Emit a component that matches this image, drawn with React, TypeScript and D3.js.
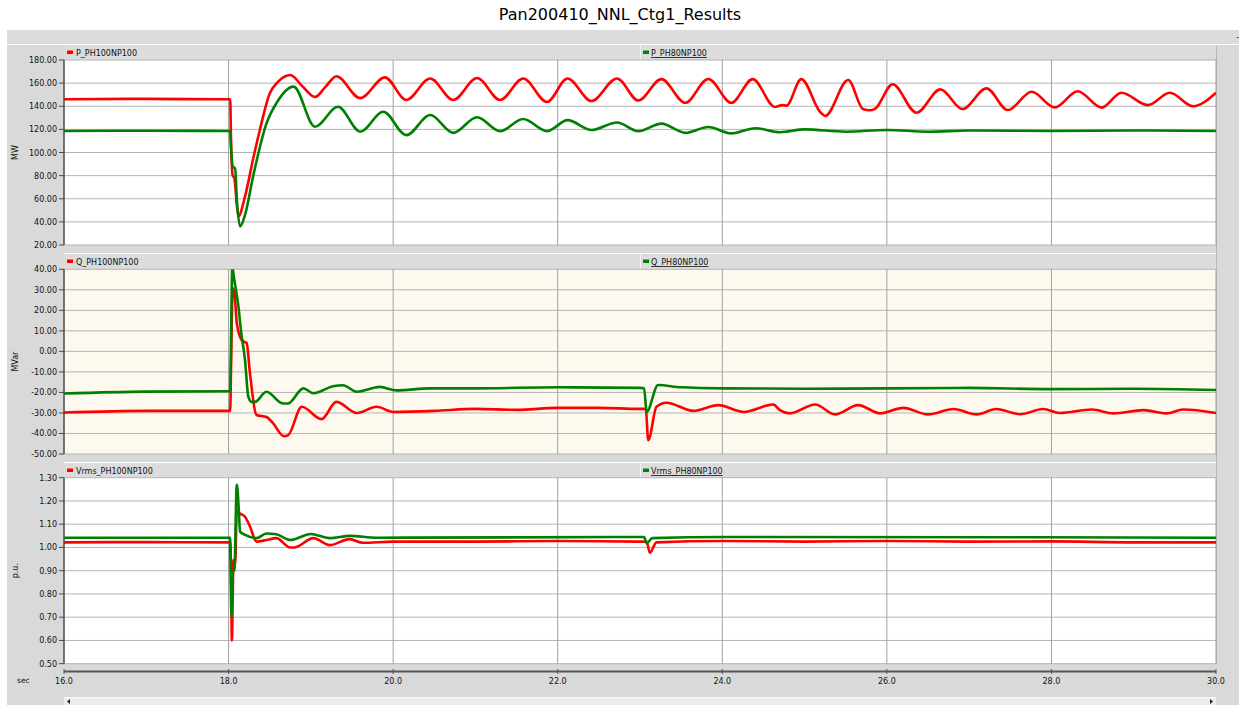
import { useMemo } from 'react'
import * as d3 from 'd3'

const TITLE = 'Pan200410_NNL_Ctg1_Results'
const X_TICKS = [16, 18, 20, 22, 24, 26, 28, 30]

// P (MW)
const P_PH100NP100: [number, number][] = [
  [16.0, 146], [17.0, 146.4], [18.0, 146], [18.02, 146], [18.03, 110], [18.05, 80], [18.07, 78],
  [18.1, 55], [18.12, 45], [18.2, 62], [18.3, 95], [18.38, 119.5], [18.5, 151], [18.6, 161],
  [18.75, 167], [18.9, 157], [19.05, 148], [19.18, 157], [19.31, 166], [19.6, 147], [19.9, 165],
  [20.16, 145.4], [20.45, 164], [20.73, 145.4], [21.02, 164.4], [21.3, 145.4], [21.58, 164],
  [21.87, 143.7], [22.12, 164], [22.41, 144.5], [22.72, 164], [22.98, 145], [23.26, 163.5],
  [23.55, 143], [23.83, 163.6], [24.11, 143], [24.37, 163.5], [24.64, 139.4], [24.73, 141],
  [24.78, 140.5], [24.96, 163.5], [25.19, 135], [25.25, 131.6], [25.53, 162.7], [25.71, 137.6],
  [25.79, 136.5], [25.86, 138], [26.07, 159], [26.36, 134.4], [26.65, 154.6], [26.92, 137.6],
  [27.21, 155.5], [27.47, 136.7], [27.76, 152.6], [28.04, 139], [28.32, 153], [28.61, 138.8],
  [28.85, 151.7], [29.17, 141], [29.44, 151.7], [29.72, 140], [30.0, 151.7]
]
const P_PH80NP100: [number, number][] = [
  [16.0, 118.6], [17.0, 118.8], [18.0, 118.6], [18.02, 118], [18.03, 104], [18.05, 88], [18.08, 86],
  [18.1, 60], [18.14, 36], [18.2, 46], [18.3, 80], [18.46, 125], [18.58, 142.5], [18.79, 157],
  [19.05, 122.3], [19.33, 139.6], [19.6, 118], [19.88, 135.3], [20.16, 115], [20.45, 132.4],
  [20.73, 117], [21.02, 130.5], [21.3, 118.5], [21.58, 129], [21.87, 118.5], [22.12, 128],
  [22.41, 119.5], [22.72, 126], [22.98, 118.5], [23.26, 125], [23.55, 117], [23.83, 122],
  [24.11, 116.5], [24.4, 121], [24.7, 117.5], [25.0, 120], [25.5, 118], [26.0, 119.5],
  [26.5, 118], [27.0, 119], [28.0, 118.6], [29.0, 119], [30.0, 118.6]
]

// Q (MVar)
const Q_PH100NP100: [number, number][] = [
  [16.0, -29.8], [17.0, -29], [18.0, -29], [18.02, -29], [18.03, -7.5], [18.05, 30.7], [18.07, 29],
  [18.1, 13.8], [18.16, 5.5], [18.22, 4], [18.26, -10.7], [18.34, -31], [18.46, -32], [18.54, -35],
  [18.67, -41.3], [18.72, -41], [18.89, -27], [19.13, -33], [19.31, -24.6], [19.56, -30],
  [19.8, -27], [20.0, -29.5], [20.5, -29], [21.0, -28], [21.5, -28.5], [22.0, -27.5], [22.5, -27.5],
  [23.0, -28], [23.07, -28], [23.1, -43.3], [23.2, -27], [23.32, -25], [23.65, -29], [23.95, -26.2],
  [24.26, -29.5], [24.62, -25.9], [24.7, -28.6], [24.82, -30.2], [25.13, -25.9], [25.37, -30.7],
  [25.65, -26.2], [25.92, -30.2], [26.2, -27.5], [26.5, -30.7], [26.81, -28.1], [27.09, -30.7],
  [27.33, -28.1], [27.62, -30.6], [27.9, -28.1], [28.1, -30], [28.49, -28.3], [28.75, -30.2],
  [29.12, -28.6], [29.4, -30.2], [29.6, -28.3], [30.0, -30]
]
const Q_PH80NP100: [number, number][] = [
  [16.0, -20.5], [17.0, -19.6], [18.0, -19.4], [18.02, -19.4], [18.03, 5], [18.045, 41],
  [18.07, 34.8], [18.12, 21.8], [18.15, 10.4], [18.2, -4.3], [18.24, -22], [18.28, -24.6],
  [18.32, -24.6], [18.46, -19.7], [18.66, -25.4], [18.72, -25.4], [18.91, -18], [19.03, -20.4],
  [19.27, -17], [19.39, -16.5], [19.56, -19.7], [19.84, -17.3], [20.04, -19], [20.45, -18],
  [21.0, -18], [22.0, -17.5], [23.0, -17.8], [23.05, -18], [23.08, -29.5], [23.22, -16.4],
  [23.5, -17.5], [24.0, -18], [25.0, -18.2], [26.0, -18], [27.0, -17.8], [28.0, -18.4],
  [29.0, -18.2], [30.0, -18.8]
]

// Vrms (p.u.)
const Vrms_PH100NP100: [number, number][] = [
  [16.0, 1.022], [17.0, 1.023], [18.0, 1.022], [18.02, 1.022], [18.03, 0.9], [18.04, 0.6],
  [18.06, 0.946], [18.08, 0.93], [18.1, 1.16], [18.13, 1.148], [18.2, 1.132], [18.26, 1.09],
  [18.34, 1.025], [18.46, 1.032], [18.58, 1.04], [18.75, 1.0], [18.8, 1.0], [19.03, 1.04],
  [19.23, 1.01], [19.47, 1.036], [19.63, 1.02], [20.0, 1.025], [21.0, 1.025], [22.0, 1.028],
  [23.0, 1.025], [23.08, 1.025], [23.12, 0.977], [23.2, 1.022], [24.0, 1.028], [25.0, 1.025],
  [26.0, 1.028], [27.0, 1.025], [28.0, 1.026], [29.0, 1.022], [30.0, 1.022]
]
const Vrms_PH80NP100: [number, number][] = [
  [16.0, 1.042], [17.0, 1.042], [18.0, 1.042], [18.02, 1.042], [18.025, 0.903], [18.035, 0.7],
  [18.045, 0.9], [18.07, 0.9], [18.1, 1.27], [18.12, 1.19], [18.14, 1.068], [18.2, 1.054],
  [18.34, 1.04], [18.46, 1.06], [18.58, 1.057], [18.75, 1.032], [19.0, 1.058], [19.1, 1.05],
  [19.23, 1.04], [19.47, 1.05], [19.8, 1.042], [23.05, 1.045], [23.08, 1.018], [23.15, 1.04],
  [24.0, 1.045], [30.0, 1.042]
]

const RED = '#ff0000'
const GREEN = '#008000'
const FONT = 'DejaVu Sans, Verdana, sans-serif'

const PANELS = [
  { key: 'p', unit: 'MW', names: ['P_PH100NP100', 'P_PH80NP100'], series: [P_PH100NP100, P_PH80NP100],
    domain: [20, 180], ticks: d3.range(20, 181, 20), strip: 45, top: 60, bottom: 245, bg: '#ffffff' },
  { key: 'q', unit: 'MVar', names: ['Q_PH100NP100', 'Q_PH80NP100'], series: [Q_PH100NP100, Q_PH80NP100],
    domain: [-50, 40], ticks: d3.range(-50, 41, 10), strip: 254, top: 269.3, bottom: 454, bg: '#fdf9ee' },
  { key: 'v', unit: 'p.u.', names: ['Vrms_PH100NP100', 'Vrms_PH80NP100'], series: [Vrms_PH100NP100, Vrms_PH80NP100],
    domain: [0.5, 1.3], ticks: d3.range(5, 14).map(d => d / 10), strip: 463, top: 477.7, bottom: 663.7, bg: '#ffffff' }
]

export default function App() {
  const width = 1239
  const height = 705
  const left = 64
  const right = 1216

  const x = useMemo(() => d3.scaleLinear().domain([16, 30]).range([left, right]), [])

  return (
    <svg width={width} height={height} style={{ position: 'absolute', left: 0, top: 0, fontFamily: FONT }}>
      <rect x={0} y={0} width={width} height={height} fill="#ffffff" />
      <text x={620} y={20} textAnchor="middle" fontSize={16} fill="#000">{TITLE}</text>

      {/* window chrome */}
      <rect x={7} y={30} width={width - 7} height={height - 30} fill="#d9d9d9" />
      <rect x={7} y={30} width={width - 7} height={14} fill="#dcdcdc" />
      <line x1={7} x2={width} y1={44.5} y2={44.5} stroke="#ffffff" />
      <text x={1236} y={40} fontSize={9} fill="#333">-</text>
      <line x1={right + 0.5} x2={right + 0.5} y1={45} y2={664} stroke="#b8b8b8" />

      {PANELS.map(p => {
        const y = d3.scaleLinear().domain(p.domain).range([p.bottom, p.top])
        const line = d3.line<[number, number]>()
          .x(d => x(d[0]))
          .y(d => y(d[1]))
          .curve(d3.curveMonotoneX)
        const mid = (p.top + p.bottom) / 2
        return (
          <g key={p.key}>
            {/* legend strip */}
            <line x1={left} x2={right} y1={p.strip - 0.5} y2={p.strip - 0.5} stroke="#ffffff" />
            <rect x={left} y={p.strip} width={right - left} height={p.top - p.strip} fill="#dcdcdc" />
            <line x1={640.5} x2={640.5} y1={p.strip} y2={p.top} stroke="#f4f4f4" />
            <rect x={67} y={p.strip + 5.5} width={6} height={3.5} fill={RED} />
            <text x={76} y={p.strip + 11} fontSize={8} fill="#111">{p.names[0]}</text>
            <rect x={643} y={p.strip + 5.5} width={6} height={3.5} fill={GREEN} />
            <text x={651} y={p.strip + 11} fontSize={8} fill="#111" textDecoration="underline">{p.names[1]}</text>

            {/* plot area */}
            <rect x={left} y={p.top} width={right - left} height={p.bottom - p.top} fill={p.bg} />
            <clipPath id={`clip-${p.key}`}>
              <rect x={left} y={p.top} width={right - left} height={p.bottom - p.top} />
            </clipPath>
            {p.ticks.map(t => (
              <line key={`h${t}`} x1={left} x2={right} y1={y(t)} y2={y(t)} stroke="#b4b4b4" strokeWidth={1} />
            ))}
            {X_TICKS.slice(1).map(t => (
              <line key={`v${t}`} x1={x(t)} x2={x(t)} y1={p.top} y2={p.bottom} stroke="#a0a0a0" strokeWidth={1} />
            ))}
            <g clipPath={`url(#clip-${p.key})`}>
              {p.series.map((s, i) => (
                <path key={i} d={line(s) || ''} fill="none" stroke={i === 0 ? RED : GREEN}
                  strokeWidth={2.6} strokeLinejoin="round" />
              ))}
            </g>

            {/* y axis */}
            <line x1={left} x2={left} y1={p.top} y2={p.bottom} stroke="#4a4a4a" strokeWidth={1.5} />
            {p.ticks.map(t => (
              <g key={`t${t}`}>
                <line x1={left - 5} x2={left} y1={y(t)} y2={y(t)} stroke="#4a4a4a" />
                <text x={57} y={y(t) + 3} textAnchor="end" fontSize={8} fill="#111">{t.toFixed(2)}</text>
              </g>
            ))}
            <text transform={`translate(18, ${mid}) rotate(-90)`} textAnchor="middle" fontSize={8} fill="#111">{p.unit}</text>
          </g>
        )
      })}

      {/* x axis */}
      <line x1={left} x2={right} y1={671.5} y2={671.5} stroke="#555555" strokeWidth={2} />
      {X_TICKS.map(t => (
        <g key={t}>
          <line x1={x(t)} x2={x(t)} y1={669} y2={674} stroke="#555555" />
          <text x={x(t)} y={684} textAnchor="middle" fontSize={8} fill="#111">{t.toFixed(1)}</text>
        </g>
      ))}
      <text x={17} y={683} fontSize={7.5} fill="#111">sec</text>

      {/* scrollbar */}
      <rect x={left} y={697} width={right - left} height={8} fill="#ececec" />
      <line x1={left} x2={right} y1={697.5} y2={697.5} stroke="#f8f8f8" />
      <path d="M70,699 L67,701.5 L70,704 Z" fill="#222" />
      <path d="M1210,699 L1213,701.5 L1210,704 Z" fill="#222" />
    </svg>
  )
}
